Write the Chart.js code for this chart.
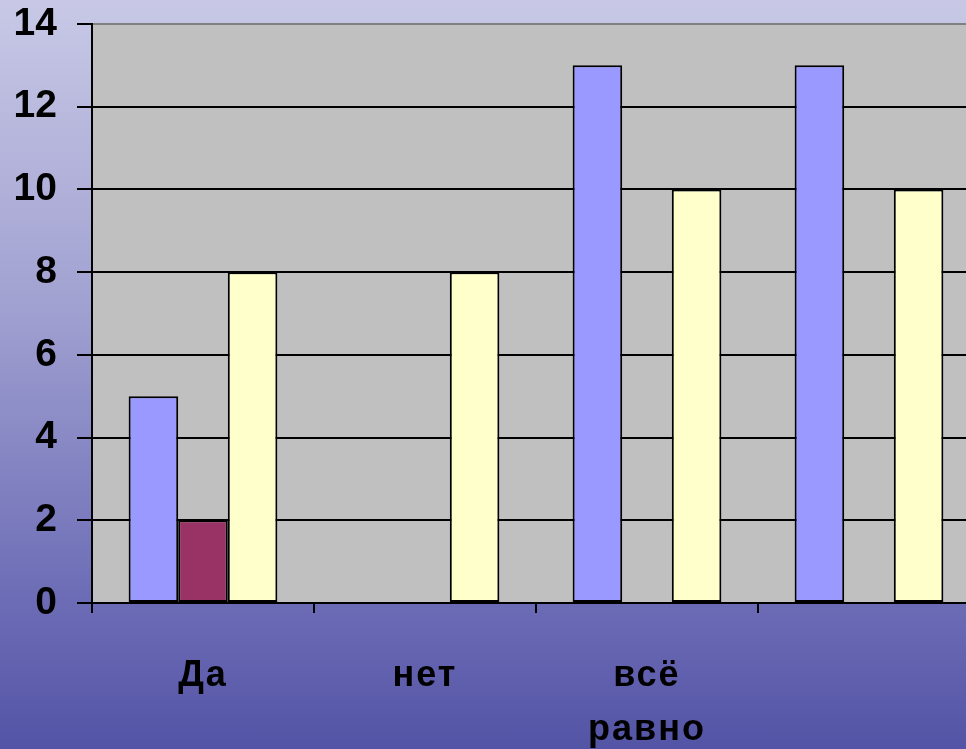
<!DOCTYPE html>
<html><head><meta charset="utf-8">
<script src="https://cdn.jsdelivr.net/npm/chart.js@4"></script>
<style>
html,body{margin:0;padding:0;width:966px;height:749px;overflow:hidden;
background:linear-gradient(to bottom,#c8c8e6 0%,#a2a2d2 40%,#6c6cb6 80%,#5454a6 100%);}
#wrap{position:absolute;left:0;top:0;width:1000px;height:749px;}
</style></head><body>
<div id="wrap"><canvas id="c" width="1000" height="749"></canvas></div>
<script>
const categories = ['Да', 'нет', ['всё', 'равно'], ''];
const seriesBlue = [5, 0, 13, 13];
const seriesMaroon = [2, 0, 0, 0];
const seriesYellow = [8, 8, 10, 10];
const yTicks = [0, 2, 4, 6, 8, 10, 12, 14];

const plotBg = {
  id: 'plotBg',
  afterUpdate(chart) {
    const s = chart.scales.x;
    if (!s._ls) {
      const orig = s.drawLabels;
      s.drawLabels = function (a) {
        const ctx = this.ctx;
        ctx.letterSpacing = '2px';
        orig.call(this, a);
        ctx.letterSpacing = '0px';
      };
      s._ls = true;
    }
  },
  beforeDraw(chart) {
    const {ctx, chartArea: a} = chart;
    ctx.save();
    ctx.fillStyle = '#c0c0c0';
    ctx.fillRect(a.left, a.top, a.right - a.left, a.bottom - a.top);
    ctx.restore();
  }
};

new Chart(document.getElementById('c'), {
  type: 'bar',
  data: {
    labels: categories,
    datasets: [
      {data: seriesBlue, backgroundColor: '#9999ff'},
      {data: seriesMaroon, backgroundColor: '#993366'},
      {data: seriesYellow, backgroundColor: '#ffffcc'}
    ].map(d => Object.assign(d, {borderColor: '#000', borderWidth: 2, borderSkipped: false,
      categoryPercentage: 0.67, barPercentage: 1.0}))
  },
  plugins: [plotBg],
  options: {
    responsive: false,
    devicePixelRatio: 1,
    animation: false,
    layout: {padding: {top: 24, right: 20, left: 0, bottom: 0}},
    plugins: {legend: {display: false}, tooltip: {enabled: false}},
    scales: {
      x: {
        grid: {display: true, drawOnChartArea: false, drawTicks: true, tickLength: 10,
          color: '#000', tickColor: '#000', lineWidth: 2, offset: true},
        border: {display: true, color: '#000', width: 2},
        ticks: {color: '#000', font: {family: 'Liberation Sans, Arial', size: 36, weight: 'bold', lineHeight: 1.5},
          padding: 36, maxRotation: 0, autoSkip: false},
        afterFit(s) { s.height = 146; s.paddingLeft = 0; s.paddingRight = 0; }
      },
      y: {
        min: 0, max: 14,
        afterBuildTicks(s) { s.ticks = yTicks.map(v => ({value: v})); },
        grid: {drawTicks: true, tickLength: 15, tickColor: '#000', lineWidth: 2,
          color: ctx => (ctx.tick && ctx.tick.value === 14) ? '#808080' : '#000'},
        border: {display: true, color: '#000', width: 2},
        ticks: {color: '#000', font: {family: 'Liberation Sans, Arial', size: 39, weight: 'bold'},
          padding: 20},
        afterFit(s) { s.width = 92; s.paddingTop = 0; s.paddingBottom = 0; }
      }
    }
  }
});
</script>
</body></html>
